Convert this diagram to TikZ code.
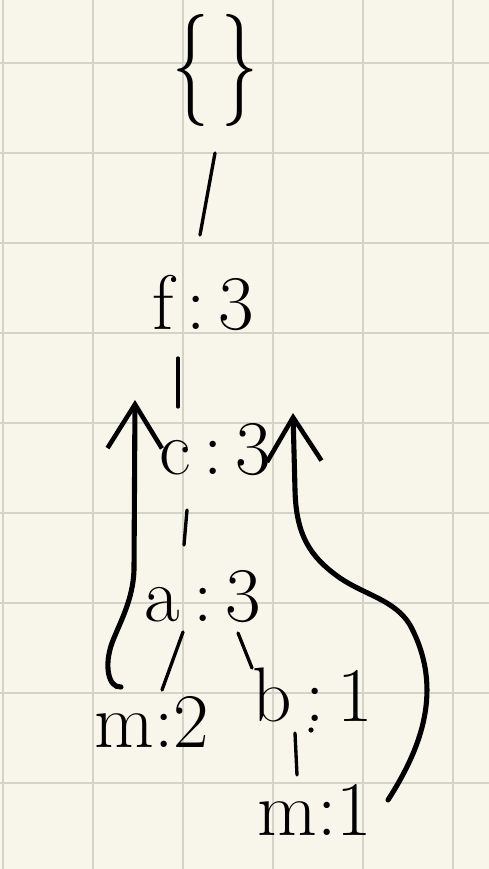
\documentclass[tikz,border=0pt]{standalone}
\usetikzlibrary{calc,arrows.meta}
\definecolor{paper}{RGB}{248,246,234}
\definecolor{gridc}{RGB}{212,211,200}
\tikzset{
  lbl/.style={inner sep=0pt, font=\fontsize{44}{50}\selectfont, text=black},
  edge/.style={line width=1.9pt, line cap=round, black},
  arr/.style={line width=2.9pt, line cap=round, black, -{Straight Barb[length=25pt,width=31pt,line width=2.6pt]}},
}
\begin{document}
\begin{tikzpicture}[x=0.02cm,y=-0.02cm]
\fill[paper] (0,0) rectangle (489,869);
\useasboundingbox (0,0) rectangle (489,869);
\foreach \gx in {3,93,183,273,363,453} \draw[gridc, line width=1.1pt] (\gx,0) -- (\gx,869);
\foreach \gy in {63,153,243,333,423,513,603,693,783} \draw[gridc, line width=1.1pt] (0,\gy) -- (489,\gy);

\node[lbl] (top) at (215,70) {\scalebox{0.95}[1.45]{\{\,\}}};
\node[lbl] (f) at (203,303) {f\,:\,3};
\node[lbl] (c) at (215,450) {c\,:\,3};
\node[lbl] (a) at (203,597) {a\,:\,3};
\node[lbl] (m2) at (152,722) {m:2};
\node[lbl] (b) at (313,695) {b\,:\,1};
\node[lbl] (m1) at (315,810) {m:1};

\draw[edge] ($(top)+(0,83)$) -- ($(f)+(-3,-68)$);
\draw[edge] ($(f)+(-25,55)$) -- ($(c)+(-37,-43)$);
\draw[edge] ($(c)+(-28,60)$) -- ($(a)+(-19,-52)$);
\draw[edge] ($(a)+(-20,35)$) -- ($(m2)+(10,-32)$);
\draw[edge] ($(a)+(35,36)$) -- ($(b)+(-61,-27)$);
\draw[edge] ($(b)+(-18,38)$) -- ($(m1)+(-18,-35)$);
\fill[black] ($(b)+(-2,35)$) circle (2.6);

\coordinate (l0) at ($(m2)+(-31,-35)$);
\coordinate (lend) at ($(c)+(-80,-50)$);
\draw[arr] (l0) .. controls (108,688) and (104,665) .. (112,643)
  .. controls (120,622) and (133,600) .. (134,570) -- (lend);

\coordinate (r0) at ($(m1)+(73,-10)$);
\coordinate (rend) at ($(c)+(78,-37)$);
\draw[arr] (r0) .. controls (420,750) and (445,690) .. (410,625)
  .. controls (395,600) and (365,595) .. (340,578)
  .. controls (310,557) and (296,535) .. (295,490) -- (rend);
\end{tikzpicture}
\end{document}
